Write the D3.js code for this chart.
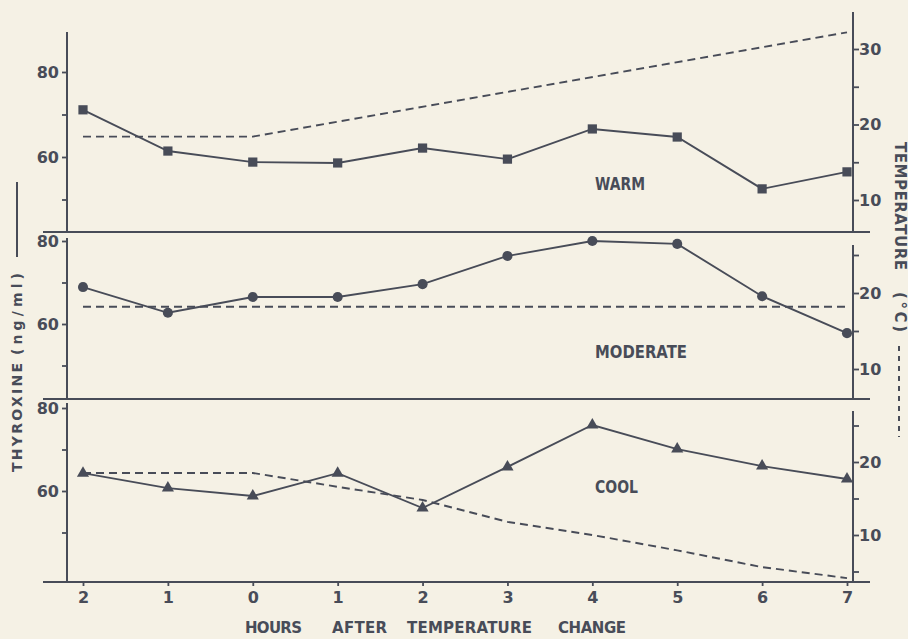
<!DOCTYPE html>
<html>
<head>
<meta charset="utf-8">
<script src="https://cdn.jsdelivr.net/npm/d3@7/dist/d3.min.js"></script>
<style>
  html, body { margin: 0; padding: 0; background: #f5f1e5; }
  svg { display: block; }
  text { font-family: "DejaVu Sans", "Liberation Sans", Arial, sans-serif; font-weight: bold; fill: #484c58; }
</style>
</head>
<body>
<svg id="chart" width="908" height="639"></svg>
<script>
// ---------------- data ----------------
const hours = [-2, -1, 0, 1, 2, 3, 4, 5, 6, 7];
const xTickLabels = ["2", "1", "0", "1", "2", "3", "4", "5", "6", "7"];

const warmT4 = [71.1, 61.4, 58.8, 58.6, 62.1, 59.5, 66.6, 64.7, 52.5, 56.5];
const warmTempHours = [-2, 0, 7];
const warmTemp = [18.4, 18.4, 32.2];

const moderateT4 = [68.9, 62.7, 66.5, 66.5, 69.6, 76.4, 80.0, 79.3, 66.7, 57.8];
const moderateTempHours = [-2, 7];
const moderateTemp = [18.2, 18.2];

const coolT4 = [64.3, 60.7, 58.8, 64.3, 55.9, 65.8, 75.9, 70.1, 66.0, 62.9];
const coolTempHours = [-2, -1, 0, 1, 2, 3, 4, 5, 6, 7];
const coolTemp = [18.5, 18.5, 18.5, 16.6, 14.8, 11.8, 10.0, 7.9, 5.6, 4.1];

const leftTicks = [50, 60, 70, 80];
const leftLabels = [60, 80];

// ---------------- layout ----------------
const INK = "#484c58";
const svg = d3.select("#chart");
const xLeft = 67, xRight = 853;
const x = d3.scaleLinear().domain([-2, 7]).range([83, 847]);

const panels = [
  { name: "WARM", nameW: 50, t4: warmT4, tH: warmTempHours, t: warmTemp, marker: "square",
    leftTop: 32, bottom: 232, yL: [157, 72], yR: [[10, 30], [200, 49]], rightTop: 12,
    rightTicks: [10, 15, 20, 25, 30], rightLabels: [10, 20, 30], labelY: 184 },
  { name: "MODERATE", nameW: 92, t4: moderateT4, tH: moderateTempHours, t: moderateTemp, marker: "circle",
    leftTop: 238, bottom: 399, yL: [324, 241], yR: [[10, 20], [369, 293]], rightTop: 245,
    rightTicks: [10, 15, 20, 25], rightLabels: [10, 20], labelY: 352 },
  { name: "COOL", nameW: 43, t4: coolT4, tH: coolTempHours, t: coolTemp, marker: "triangle",
    leftTop: 403, bottom: 582, yL: [491, 408], yR: [[10, 20], [535, 462]], rightTop: 411,
    rightTicks: [5, 10, 15, 20, 25], rightLabels: [10, 20], labelY: 487 }
];

const symbols = {
  square: d3.symbol().type(d3.symbolSquare).size(85),
  circle: d3.symbol().type(d3.symbolCircle).size(80),
  triangle: d3.symbol().type(d3.symbolTriangle).size(64)
};

panels.forEach(p => {
  const yL = d3.scaleLinear().domain([60, 80]).range(p.yL);
  const yR = d3.scaleLinear().domain(p.yR[0]).range(p.yR[1]);
  const g = svg.append("g");

  g.append("line").attr("x1", 43).attr("x2", 870).attr("y1", p.bottom).attr("y2", p.bottom)
    .attr("stroke", INK).attr("stroke-width", 2.2);
  g.append("line").attr("x1", xLeft).attr("x2", xLeft).attr("y1", p.leftTop).attr("y2", p.bottom)
    .attr("stroke", INK).attr("stroke-width", 2);
  g.append("line").attr("x1", xRight).attr("x2", xRight).attr("y1", p.rightTop).attr("y2", p.bottom)
    .attr("stroke", INK).attr("stroke-width", 2);

  const la = g.append("g").attr("transform", `translate(${xLeft},0)`)
    .call(d3.axisLeft(yL).tickValues(leftTicks).tickSize(5).tickPadding(3)
      .tickFormat(d => leftLabels.includes(d) ? d : ""));
  la.select(".domain").remove();
  la.selectAll("line").attr("stroke", INK).attr("stroke-width", 1.8);
  la.selectAll("text").style("font-size", "16px").attr("fill", INK);

  const ra = g.append("g").attr("transform", `translate(${xRight},0)`)
    .call(d3.axisRight(yR).tickValues(p.rightTicks).tickSize(6).tickPadding(0)
      .tickFormat(d => p.rightLabels.includes(d) ? d : ""));
  ra.select(".domain").remove();
  ra.selectAll("line").attr("stroke", INK).attr("stroke-width", 1.8);
  ra.selectAll("text").style("font-size", "16px").attr("fill", INK);

  const tData = p.tH.map((h, i) => [h, p.t[i]]);
  g.append("path").datum(tData)
    .attr("d", d3.line().x(d => x(d[0])).y(d => yR(d[1])))
    .attr("fill", "none").attr("stroke", INK).attr("stroke-width", 1.9)
    .attr("stroke-dasharray", "8,5");

  const sData = hours.map((h, i) => [h, p.t4[i]]);
  g.append("path").datum(sData)
    .attr("d", d3.line().x(d => x(d[0])).y(d => yL(d[1])))
    .attr("fill", "none").attr("stroke", INK).attr("stroke-width", 1.9);

  g.selectAll("path.mk").data(sData).join("path").attr("class", "mk")
    .attr("transform", d => `translate(${x(d[0])},${yL(d[1])})`)
    .attr("d", symbols[p.marker]).attr("fill", INK);

  g.append("text").attr("x", 595).attr("y", p.labelY).attr("dy", "0.36em")
    .style("font-size", "17px").attr("textLength", p.nameW).attr("lengthAdjust", "spacingAndGlyphs")
    .text(p.name);
});

// x axis
const xa = svg.append("g").attr("transform", "translate(0,582)")
  .call(d3.axisBottom(x).tickValues(hours).tickSize(4).tickPadding(6)
    .tickFormat((d, i) => xTickLabels[i]));
xa.select(".domain").remove();
xa.selectAll("line").attr("stroke", INK).attr("stroke-width", 1.8);
xa.selectAll("text").style("font-size", "16px").attr("fill", INK);

// x axis title (word by word, letter-spaced)
const xTitleWords = [["HOURS", 245, 57], ["AFTER", 332, 55], ["TEMPERATURE", 407, 125], ["CHANGE", 558, 68]];
svg.selectAll("text.xt").data(xTitleWords).join("text").attr("class", "xt")
  .attr("x", d => d[1]).attr("y", 628).attr("dy", "0.36em")
  .style("font-size", "15px").attr("textLength", d => d[2]).attr("lengthAdjust", "spacing")
  .text(d => d[0]);

// left y title
const leftTitle = [["THYROXINE", 472, 109], ["(ng/ml)", 355, 82]];
svg.selectAll("text.lt").data(leftTitle).join("text").attr("class", "lt")
  .attr("transform", d => `translate(17,${d[1]}) rotate(-90)`).attr("dy", "0.36em")
  .style("font-size", "14px").attr("textLength", d => d[2]).attr("lengthAdjust", "spacing")
  .text(d => d[0]);
svg.append("line").attr("x1", 17).attr("x2", 17).attr("y1", 182).attr("y2", 257)
  .attr("stroke", INK).attr("stroke-width", 2);

// right y title
const rightTitle = [["TEMPERATURE", 142, 128], ["(°C)", 292, 40]];
svg.selectAll("text.rt").data(rightTitle).join("text").attr("class", "rt")
  .attr("transform", d => `translate(900,${d[1]}) rotate(90)`).attr("dy", "0.36em")
  .style("font-size", "15px").attr("textLength", d => d[2]).attr("lengthAdjust", "spacing")
  .text(d => d[0]);
svg.append("line").attr("x1", 899).attr("x2", 899).attr("y1", 346).attr("y2", 437)
  .attr("stroke", INK).attr("stroke-width", 2).attr("stroke-dasharray", "5,5");
</script>
</body>
</html>
